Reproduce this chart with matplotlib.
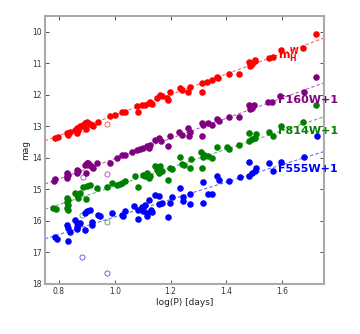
import numpy as np
import matplotlib
matplotlib.use("Agg")
import matplotlib.pyplot as plt

# ---------------- data ----------------
red_logp = [0.786, 0.795, 0.828, 0.833, 0.840, 0.857, 0.864, 0.869, 0.864, 0.875, 0.881, 0.887,
            0.893, 0.900, 0.905, 0.911, 0.917, 0.923, 0.896, 0.941, 0.983, 1.001, 1.025, 1.037,
            1.079, 1.085, 1.097, 1.109, 1.121, 1.127, 1.133, 1.151, 1.163, 1.169, 1.187, 1.192,
            1.199, 1.234, 1.241, 1.264, 1.270, 1.312, 1.312, 1.330, 1.348, 1.366, 1.370, 1.410,
            1.446, 1.482, 1.486, 1.492, 1.501, 1.504, 1.552, 1.566, 1.596, 1.675, 1.723]
red_mag = [13.37, 13.34, 13.20, 13.27, 13.17, 13.11, 13.06, 13.13, 13.20, 13.00, 12.98, 12.95,
           12.90, 12.85, 12.88, 12.92, 12.95, 13.00, 13.09, 12.85, 12.67, 12.63, 12.56, 12.53,
           12.37, 12.53, 12.32, 12.32, 12.26, 12.24, 12.29, 12.10, 12.00, 12.05, 12.10, 12.18,
           11.90, 11.79, 11.86, 11.90, 11.74, 11.90, 11.63, 11.58, 11.52, 11.42, 11.47, 11.33,
           11.34, 10.96, 11.07, 11.03, 10.92, 10.89, 10.84, 10.80, 10.59, 10.50, 10.07]
red_open_logp = [0.885, 0.971]
red_open_mag = [13.10, 12.92]

purple_logp = [0.782, 0.786, 0.828, 0.828, 0.833, 0.828, 0.864, 0.869, 0.864, 0.893, 0.900, 0.905,
               0.911, 0.917, 0.923, 0.897, 0.938, 0.983, 1.007, 1.025, 1.037, 1.061, 1.079, 1.091,
               1.103, 1.115, 1.121, 1.127, 1.145, 1.157, 1.166, 1.192, 1.199, 1.232, 1.241, 1.264,
               1.270, 1.267, 1.312, 1.318, 1.312, 1.336, 1.348, 1.366, 1.372, 1.411, 1.447, 1.482,
               1.498, 1.486, 1.492, 1.551, 1.564, 1.594, 1.677, 1.723]
purple_mag = [14.72, 14.68, 14.49, 14.59, 14.54, 14.65, 14.38, 14.43, 14.49, 14.22, 14.17, 14.17,
              14.22, 14.28, 14.33, 14.47, 14.17, 14.15, 14.01, 13.90, 13.90, 13.80, 13.75, 13.72,
              13.69, 13.64, 13.69, 13.59, 13.43, 13.37, 13.48, 13.62, 13.32, 13.17, 13.27, 13.06,
              13.17, 13.30, 12.90, 12.95, 13.32, 12.90, 12.95, 12.77, 12.82, 12.71, 12.69, 12.32,
              12.32, 12.45, 12.41, 12.23, 12.23, 12.05, 11.90, 11.45]
purple_open_logp = [0.885, 0.971]
purple_open_mag = [14.61, 14.51]

green_logp = [0.780, 0.789, 0.828, 0.833, 0.828, 0.833, 0.828, 0.833, 0.857, 0.864, 0.875, 0.869,
              0.887, 0.900, 0.911, 0.897, 0.938, 0.971, 0.989, 1.007, 1.019, 1.025, 1.037, 1.073,
              1.085, 1.103, 1.109, 1.115, 1.121, 1.127, 1.145, 1.151, 1.163, 1.160, 1.169, 1.192,
              1.199, 1.205, 1.235, 1.241, 1.247, 1.268, 1.272, 1.309, 1.315, 1.321, 1.312, 1.336,
              1.348, 1.368, 1.404, 1.410, 1.446, 1.482, 1.482, 1.492, 1.501, 1.506, 1.554, 1.566,
              1.596, 1.675, 1.723]
green_mag = [15.60, 15.62, 15.28, 15.33, 15.39, 15.49, 15.60, 15.65, 15.12, 15.17, 15.12, 15.28,
             14.91, 14.89, 14.86, 15.31, 14.96, 14.93, 14.81, 14.86, 14.83, 14.81, 14.75, 14.59,
             14.91, 14.54, 14.59, 14.49, 14.65, 14.59, 14.27, 14.38, 14.27, 14.48, 14.43, 14.70,
             14.33, 14.36, 13.97, 14.18, 14.22, 14.33, 14.05, 13.80, 13.96, 13.90, 14.33, 13.94,
             14.01, 13.66, 13.66, 13.72, 13.59, 13.22, 13.45, 13.41, 13.37, 13.24, 13.17, 13.30,
             13.00, 12.87, 12.32]
green_open_logp = [0.884, 0.971]
green_open_mag = [15.81, 16.05]

blue_logp = [0.786, 0.792, 0.828, 0.833, 0.831, 0.840, 0.857, 0.864, 0.864, 0.869, 0.875, 0.866,
             0.893, 0.900, 0.911, 0.893, 0.917, 0.917, 0.941, 0.946, 0.989, 1.025, 1.030, 1.037,
             1.070, 1.085, 1.097, 1.103, 1.109, 1.085, 1.103, 1.115, 1.121, 1.129, 1.135, 1.117,
             1.145, 1.160, 1.160, 1.169, 1.192, 1.199, 1.205, 1.235, 1.243, 1.243, 1.268, 1.268,
             1.316, 1.316, 1.333, 1.348, 1.366, 1.372, 1.410, 1.450, 1.482, 1.482, 1.492, 1.504,
             1.506, 1.554, 1.566, 1.596, 1.677, 1.725]
blue_mag = [16.50, 16.58, 16.13, 16.23, 16.63, 16.34, 15.97, 16.07, 16.18, 16.13, 16.07, 16.25,
            15.76, 15.70, 15.65, 16.29, 16.02, 16.13, 15.81, 15.86, 15.76, 15.81, 15.86, 15.70,
            15.52, 15.65, 15.55, 15.60, 15.49, 15.95, 15.70, 15.76, 15.33, 15.65, 15.73, 15.86,
            15.17, 15.21, 15.46, 15.44, 15.88, 15.42, 15.25, 14.96, 15.25, 15.36, 15.14, 15.46,
            14.78, 15.44, 15.14, 15.14, 14.59, 14.70, 14.75, 14.61, 14.12, 14.57, 14.49, 14.43,
            14.33, 14.17, 14.43, 14.12, 13.96, 13.32]
blue_open_logp = [0.884, 0.971]
blue_open_mag = [17.15, 17.66]

# fitted relations (mag at logP = 0.75 and slope)
fit_zero = [13.46, 14.83, 15.63, 16.57]
fit_slope = [-3.26, -3.21, -2.93, -2.77]
fit_range = [0.75, 1.75]

band_labels = [r'$\mathbf{m_H^W}$', 'F160W+1', 'F814W+1', 'F555W+1']
band_colors = ['#ff0000', '#800080', '#008000', '#0000ff']
label_mag = [10.75, 12.15, 13.15, 14.35]

x_ticks = [0.8, 1.0, 1.2, 1.4, 1.6]
y_ticks = [10, 11, 12, 13, 14, 15, 16, 17, 18]

# ---------------- plot ----------------
fig = plt.figure(figsize=(3.6, 3.34), dpi=100)
ax = fig.add_axes([0.125, 0.15, 0.775, 0.802])

bands = [
    (red_logp, red_mag, red_open_logp, red_open_mag),
    (purple_logp, purple_mag, purple_open_logp, purple_open_mag),
    (green_logp, green_mag, green_open_logp, green_open_mag),
    (blue_logp, blue_mag, blue_open_logp, blue_open_mag),
]

xr = np.array(fit_range)
for i, (lp, m, olp, om) in enumerate(bands):
    c = band_colors[i]
    ax.plot(xr, fit_zero[i] + fit_slope[i] * (xr - 0.75), ls=(0, (3, 2)), lw=0.8,
            color=c, alpha=0.6, zorder=1)
    ax.plot(lp, m, 'o', ms=3.7, color=c, mec=c, zorder=3)
    ax.plot(olp, om, 'o', ms=3.7, mfc='none', mec=c, mew=0.6, alpha=0.7, zorder=3)
    ax.text(1.585, label_mag[i], band_labels[i], color=c, fontsize=8, fontweight='bold',
            va='center', ha='left', clip_on=False, zorder=4)

ax.set_xlim(0.75, 1.75)
ax.set_ylim(18, 9.5)
ax.set_xticks(x_ticks)
ax.set_yticks(y_ticks)
ax.set_xticklabels([f'{t:.1f}' for t in x_ticks])
ax.set_yticklabels([str(t) for t in y_ticks])
ax.tick_params(direction='in', top=True, right=True, length=3, width=0.6,
               labelsize=5.5, colors='#333333', pad=2.5)
for sp in ax.spines.values():
    sp.set_color('#aaaaaa')
    sp.set_linewidth(1.5)
ax.set_xlabel('log(P) [days]', fontsize=6.5, labelpad=1, color='#222222')
ax.set_ylabel('mag', fontsize=6.5, labelpad=1, color='#222222')

fig.savefig('out.png', dpi=100)
